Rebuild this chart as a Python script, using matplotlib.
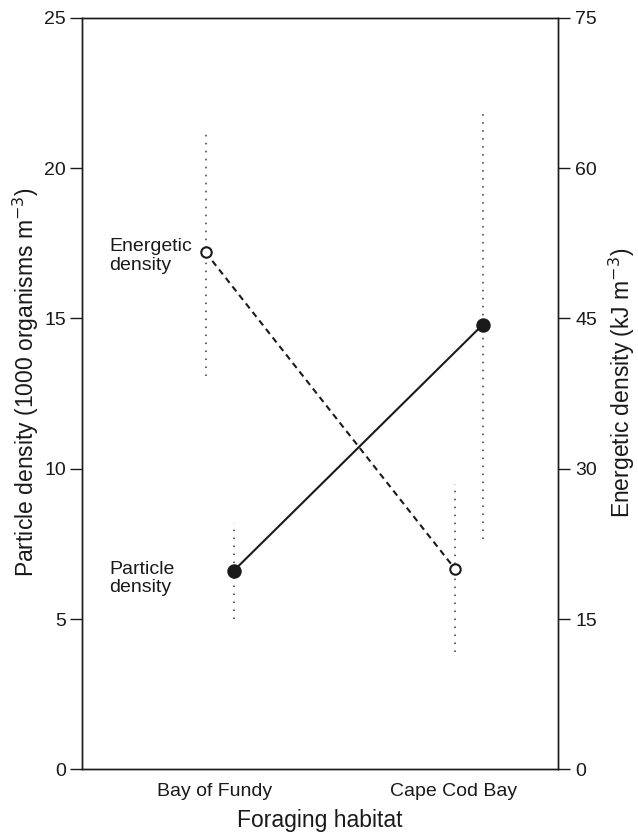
import numpy as np
import matplotlib.pyplot as plt

plt.rcParams['font.family'] = ['Liberation Sans', 'DejaVu Sans']

# data
habitats = ['Bay of Fundy', 'Cape Cod Bay']
particle = [6.6, 14.8]          # 1000 organisms m-3 (left axis)
particle_lo = [5.0, 7.65]
particle_hi = [8.2, 22.0]
energetic = [51.6, 20.0]        # kJ m-3 (right axis)
energetic_lo = [39.3, 11.7]
energetic_hi = [63.9, 28.5]

xc = np.arange(len(habitats))
off = 0.056
ink = '#1a1a1a'

fig = plt.figure(figsize=(6.38, 8.36), dpi=100)
ax = fig.add_axes([0.128, 0.0798, 0.7466, 0.8987])
ax2 = ax.twinx()

# particle density (left axis), filled circles, solid line
xp = xc + off
ax.vlines(xp, particle_lo, particle_hi, colors='#444444', linestyles=(0, (1, 4)), lw=1.15, zorder=2)
ax.plot(xp, particle, '-', color=ink, lw=1.5, zorder=3)
ax.plot(xp, particle, 'o', color=ink, ms=9.4, zorder=4)

# energetic density (right axis), open circles, dashed line
xe = xc - off
ax2.vlines(xe, energetic_lo, energetic_hi, colors='#444444', linestyles=(0, (1, 4)), lw=1.15, zorder=2)
ax2.plot(xe, energetic, '--', color=ink, lw=1.5, dashes=(3, 2.2), zorder=3)
ax2.plot(xe, energetic, 'o', mfc='white', mec=ink, mew=1.5, ms=7.5, zorder=4)

ax2.text(-0.443, energetic[0] - 0.35, 'Energetic\ndensity', fontsize=14, color=ink,
         ha='left', va='center', linespacing=1.1)
ax.text(-0.443, particle[0] - 0.26, 'Particle\ndensity', fontsize=14, color=ink,
        ha='left', va='center', linespacing=1.1)

ax.set_xlim(-0.553, 1.357)
ax.set_ylim(0, 25)
ax2.set_ylim(0, 75)
ax.set_yticks([0, 5, 10, 15, 20, 25])
ax2.set_yticks([0, 15, 30, 45, 60, 75])
ax.set_xticks([-0.02, 0.94])
ax.set_xticklabels(habitats)

ax.tick_params(axis='x', length=0, pad=10, labelsize=14, colors=ink)
ax.tick_params(axis='y', length=8.4, width=1.0, pad=3, labelsize=14, colors=ink)
ax2.tick_params(axis='y', length=8.6, width=1.0, pad=4, labelsize=14, colors=ink)

for a in (ax, ax2):
    for s in a.spines.values():
        s.set_linewidth(1.0)
        s.set_color(ink)

ax.set_xlabel('Foraging habitat', fontsize=16.5, color=ink, labelpad=6)
ax.set_ylabel('Particle density (1000 organisms m$^{\u22123}$)', fontsize=16.5, color=ink,
              labelpad=2, y=0.515)
ax2.set_ylabel('Energetic density (kJ m$^{\u22123}$)', fontsize=16.5, color=ink,
               labelpad=7, y=0.515)

fig.savefig('out.png', dpi=100)
